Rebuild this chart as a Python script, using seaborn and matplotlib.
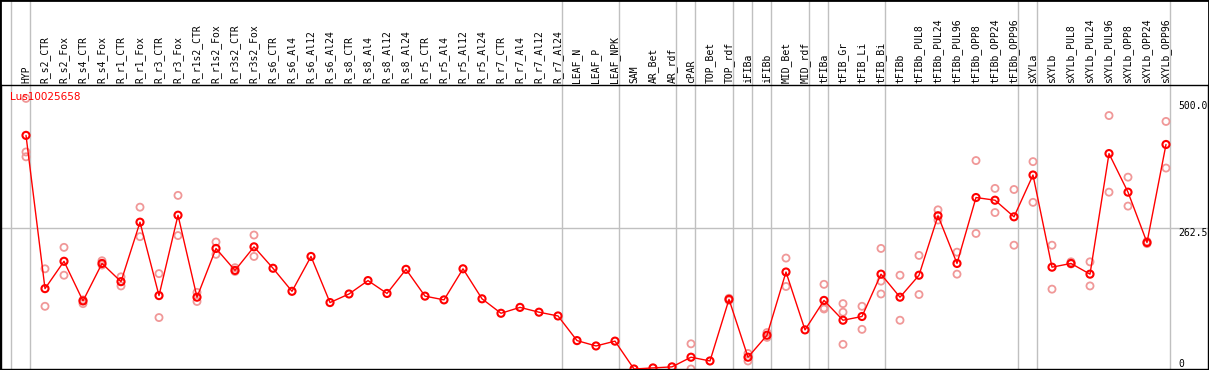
import matplotlib
matplotlib.use('Agg')
import matplotlib.pyplot as plt
import numpy as np
import pandas as pd
import seaborn as sns

categories = ['HYP', 'R_s2_CTR', 'R_s2_Fox', 'R_s4_CTR', 'R_s4_Fox', 'R_r1_CTR', 'R_r1_Fox',
              'R_r3_CTR', 'R_r3_Fox', 'R_r1s2_CTR', 'R_r1s2_Fox', 'R_r3s2_CTR', 'R_r3s2_Fox',
              'R_s6_CTR', 'R_s6_Al4', 'R_s6_Al12', 'R_s6_Al24', 'R_s8_CTR', 'R_s8_Al4',
              'R_s8_Al12', 'R_s8_Al24', 'R_r5_CTR', 'R_r5_Al4', 'R_r5_Al12', 'R_r5_Al24',
              'R_r7_CTR', 'R_r7_Al4', 'R_r7_Al12', 'R_r7_Al24', 'LEAF_N', 'LEAF_P', 'LEAF_NPK',
              'SAM', 'AR_Bet', 'AR_rdf', 'cPAR', 'TOP_Bet', 'TOP_rdf', 'iFIBa', 'iFIBb',
              'MID_Bet', 'MID_rdf', 'tFIBa', 'tFIB_Gr', 'tFIB_Li', 'tFIB_Bi', 'tFIBb',
              'tFIBb_PUL8', 'tFIBb_PUL24', 'tFIBb_PUL96', 'tFIBb_OPP8', 'tFIBb_OPP24',
              'tFIBb_OPP96', 'sXYLa', 'sXYLb', 'sXYLb_PUL8', 'sXYLb_PUL24', 'sXYLb_PUL96',
              'sXYLb_OPP8', 'sXYLb_OPP24', 'sXYLb_OPP96']

means = [436, 150, 201, 127, 197, 163, 274, 137, 287, 134, 225, 184, 228,
         188, 145, 210, 124, 140, 165, 141, 186, 136, 129, 187, 131,
         104, 115, 106, 99, 53, 43, 52, 0, 2, 4, 22, 15, 130, 22, 63,
         181, 73, 128, 91, 98, 177, 134, 175, 286, 197, 320, 315, 284,
         362, 190, 197, 177, 402, 330, 236, 419]

# replicate values per sample (only the ones that can be seen apart from the mean)
replicates = [[505, 405, 396], [187, 117], [227, 175], [129, 122], [202, 194],
              [172, 155], [302, 247], [178, 96], [324, 249], [143, 126],
              [237, 214], [189, 182], [250, 210], [], [], [], [], [], [], [], [],
              [], [], [], [], [], [], [], [], [], [], [], [], [], [],
              [47, 0], [], [132, 128], [29, 15], [68, 59], [207, 154], [],
              [158, 114, 112], [122, 106, 46], [117, 74], [225, 164, 140], [175, 91],
              [212, 139], [297, 278], [218, 177], [389, 253], [337, 292], [335, 231],
              [387, 311], [231, 149], [200, 196], [200, 155], [473, 330], [358, 304],
              [238, 234], [462, 375]]

# last sample index of each group (separator lines)
group_ends = [-1, 0, 28, 31, 34, 35, 37, 38, 39, 41, 42, 45, 52, 53, 60]

y_ticks = [0, 262.5, 500]
y_tick_labels = ['0', '262.5', '500.0']
gene = 'Lus10025658'

idx = np.arange(len(categories))
df_mean = pd.DataFrame({'pos': idx, 'value': means})
rows = [(i, v) for i, vals in enumerate(replicates) for v in vals]
df_rep = pd.DataFrame(rows, columns=['pos', 'value'])

sns.set_style('white')
plt.rcParams['font.family'] = ['DejaVu Sans Mono']

W, H = 1209, 370
fig = plt.figure(figsize=(W / 100, H / 100), dpi=100)
ax = fig.add_axes([1 / W, 1 / H, 1207 / W, 284 / H])

ax.set_xlim(-25 / 19, -25 / 19 + 1207 / 19)
ax.set_ylim(0, 530)

for g in group_ends:
    ax.axvline(g + 0.23, ymin=0, ymax=370 / 284, color='#c0c0c0', lw=1,
               clip_on=False, zorder=0)
ax.axhline(262.5, color='#c0c0c0', lw=1, zorder=0)

sns.scatterplot(data=df_rep, x='pos', y='value', ax=ax, marker='o', s=26,
                facecolor='none', edgecolor='#f09898', linewidth=1.3, zorder=2)
sns.lineplot(data=df_mean, x='pos', y='value', ax=ax, color='red', lw=1, zorder=3)
sns.scatterplot(data=df_mean, x='pos', y='value', ax=ax, marker='o', s=26,
                facecolor='none', edgecolor='red', linewidth=1.5, zorder=4)

ax.set_xlabel('')
ax.set_ylabel('')
ax.set_xticks(idx)
ax.set_xticklabels(categories, rotation=90, fontsize=7)
ax.xaxis.tick_top()
ax.tick_params(axis='x', length=0, pad=1.5, colors='black')
ax.set_yticks([])

for sp in ax.spines.values():
    sp.set_color('black')
    sp.set_linewidth(1)

xt = (1178 - 1) / 1207
for v, lab in zip(y_ticks, y_tick_labels):
    ax.text(xt, v, lab, transform=ax.get_yaxis_transform(), fontsize=7,
            ha='left', va='bottom' if v == 0 else 'top', color='black')

ax.text(9 / 1207, (369 - 97) / 284, gene, transform=ax.transAxes, color='red',
        fontsize=7.5, family='DejaVu Sans', ha='left', va='center', zorder=5)

fig.add_artist(plt.Rectangle((0, 0), 1, 1, transform=fig.transFigure, fill=False,
                             edgecolor='black', lw=2))

fig.savefig('out.png', dpi=100)
